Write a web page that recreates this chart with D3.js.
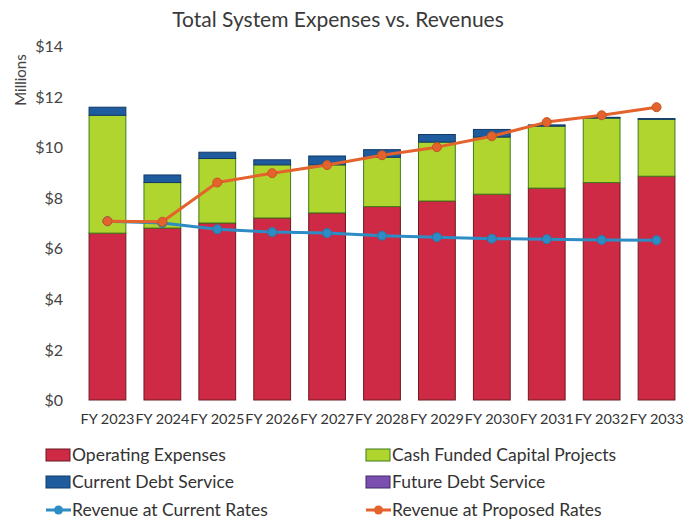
<!DOCTYPE html>
<html>
<head>
<meta charset="utf-8">
<script src="https://cdn.jsdelivr.net/npm/d3@7"></script>
<style>
  html, body { margin: 0; padding: 0; background: #fff; }
  svg { display: block; }
  text { font-family: Lato, "Open Sans", "Liberation Sans", sans-serif; fill: #333; }
</style>
</head>
<body>
<svg id="chart" width="685" height="525"></svg>
<script>
// Fiscal years and series (millions of dollars)
const years = ["FY 2023","FY 2024","FY 2025","FY 2026","FY 2027","FY 2028","FY 2029","FY 2030","FY 2031","FY 2032","FY 2033"];
const operatingExpenses = [6.6, 6.8, 7.0, 7.2, 7.4, 7.65, 7.87, 8.14, 8.38, 8.6, 8.85];
const cashFundedCapital = [4.66, 1.8, 2.55, 2.1, 1.9, 1.95, 2.33, 2.26, 2.45, 2.55, 2.25];
const currentDebtService = [0.32, 0.3, 0.25, 0.2, 0.35, 0.3, 0.3, 0.3, 0.05, 0.03, 0.03];
const futureDebtService = [0, 0, 0, 0, 0, 0, 0, 0, 0, 0, 0];
const revenueCurrentRates = [7.07, 7.0, 6.75, 6.64, 6.6, 6.5, 6.44, 6.38, 6.36, 6.33, 6.32];
const revenueProposedRates = [7.07, 7.05, 8.6, 8.97, 9.29, 9.68, 10.0, 10.43, 10.99, 11.26, 11.58];
const yTicks = [0, 2, 4, 6, 8, 10, 12, 14];

const colors = {
  operating: "#cf2a45",
  capital: "#b0d52e",
  currentDebt: "#1f5c9e",
  futureDebt: "#7a4fb0",
  revCurrent: "#2e8cc4",
  revProposed: "#e4622c"
};

const svg = d3.select("#chart");
const plot = { left: 80, right: 684, top: 46, bottom: 400 };

const x = d3.scaleBand().domain(years).range([plot.left, plot.right]).paddingInner(0.33).paddingOuter(0.165);
const y = d3.scaleLinear().domain([0, 14]).range([plot.bottom, plot.top]);

// Title
svg.append("text").attr("x", 338).attr("y", 27).attr("text-anchor", "middle")
  .style("font-size", "21px").style("fill", "#3a3a3a").text("Total System Expenses vs. Revenues");

// Y axis
const yAxis = d3.axisLeft(y).tickValues(yTicks).tickFormat(d => "$" + d).tickSize(0).tickPadding(0);
const gy = svg.append("g").attr("transform", "translate(63,0)").call(yAxis);
gy.select(".domain").remove();
gy.selectAll("text").style("font-size", "16px").style("fill", "#444").attr("dy", "0.35em");

svg.append("text").attr("transform", "translate(26,80) rotate(-90)").attr("text-anchor", "middle")
  .style("font-size", "15px").style("fill", "#444").text("Millions");

// X axis labels
const xAxis = d3.axisBottom(x).tickSize(0).tickPadding(0);
const gx = svg.append("g").attr("transform", `translate(0,${plot.bottom + 19})`).call(xAxis);
gx.select(".domain").remove();
gx.selectAll("text").style("font-size", "14px").style("fill", "#333").attr("dy", "0.35em")
  .attr("textLength", 54).attr("lengthAdjust", "spacingAndGlyphs");

// Stacked bars
const rows = years.map((yr, i) => ({
  year: yr,
  operating: operatingExpenses[i],
  capital: cashFundedCapital[i],
  currentDebt: currentDebtService[i],
  futureDebt: futureDebtService[i]
}));
const keys = ["operating", "capital", "currentDebt", "futureDebt"];
const strokes = { operating: "#6b1a22", capital: "#3f7d1c", currentDebt: "#123a66", futureDebt: "#3f2a66" };
const stacked = d3.stack().keys(keys)(rows);

svg.append("g").selectAll("g").data(stacked).join("g")
  .attr("fill", d => colors[d.key])
  .attr("stroke", d => strokes[d.key])
  .attr("stroke-width", 1)
  .selectAll("rect").data(d => d.filter(s => s[1] - s[0] > 0)).join("rect")
  .attr("x", d => x(d.data.year))
  .attr("width", x.bandwidth())
  .attr("y", d => y(d[1]))
  .attr("height", d => y(d[0]) - y(d[1]));

// Revenue lines
const cx = d => x(d) + x.bandwidth() / 2;
const line = d3.line().x(d => cx(d.year)).y(d => y(d.v));

function drawLine(values, color) {
  const pts = years.map((yr, i) => ({ year: yr, v: values[i] }));
  svg.append("path").datum(pts).attr("d", line).attr("fill", "none")
    .attr("stroke", color).attr("stroke-width", 3).attr("stroke-linejoin", "round");
  svg.append("g").selectAll("circle").data(pts).join("circle")
    .attr("cx", d => cx(d.year)).attr("cy", d => y(d.v)).attr("r", 4.5)
    .attr("fill", color).attr("stroke", d3.color(color).darker(0.4)).attr("stroke-width", 1);
}
drawLine(revenueCurrentRates, colors.revCurrent);
drawLine(revenueProposedRates, colors.revProposed);

// Legend
const legendItems = [
  { label: "Operating Expenses", key: "operating", type: "box", col: 0, row: 0 },
  { label: "Cash Funded Capital Projects", key: "capital", type: "box", col: 1, row: 0 },
  { label: "Current Debt Service", key: "currentDebt", type: "box", col: 0, row: 1 },
  { label: "Future Debt Service", key: "futureDebt", type: "box", col: 1, row: 1 },
  { label: "Revenue at Current Rates", key: "revCurrent", type: "line", col: 0, row: 2 },
  { label: "Revenue at Proposed Rates", key: "revProposed", type: "line", col: 1, row: 2 }
];
const colX = [46, 366];
const rowY = [455, 482, 510];
const lg = svg.append("g").selectAll("g").data(legendItems).join("g")
  .attr("transform", d => `translate(${colX[d.col]},${rowY[d.row]})`);
lg.filter(d => d.type === "box").append("rect")
  .attr("x", 0).attr("y", -6).attr("width", 24).attr("height", 12)
  .attr("fill", d => colors[d.key]).attr("stroke", d => strokes[d.key]).attr("stroke-width", 1);
lg.filter(d => d.type === "line").append("line")
  .attr("x1", 0).attr("x2", 25).attr("y1", 0).attr("y2", 0)
  .attr("stroke", d => colors[d.key]).attr("stroke-width", 3);
lg.filter(d => d.type === "line").append("circle")
  .attr("cx", 12.5).attr("cy", 0).attr("r", 4.5).attr("fill", d => colors[d.key]);
lg.append("text").attr("x", 26).attr("y", 0).attr("dy", "0.35em")
  .style("font-size", "17.5px").style("fill", "#333").text(d => d.label);
</script>
</body>
</html>
